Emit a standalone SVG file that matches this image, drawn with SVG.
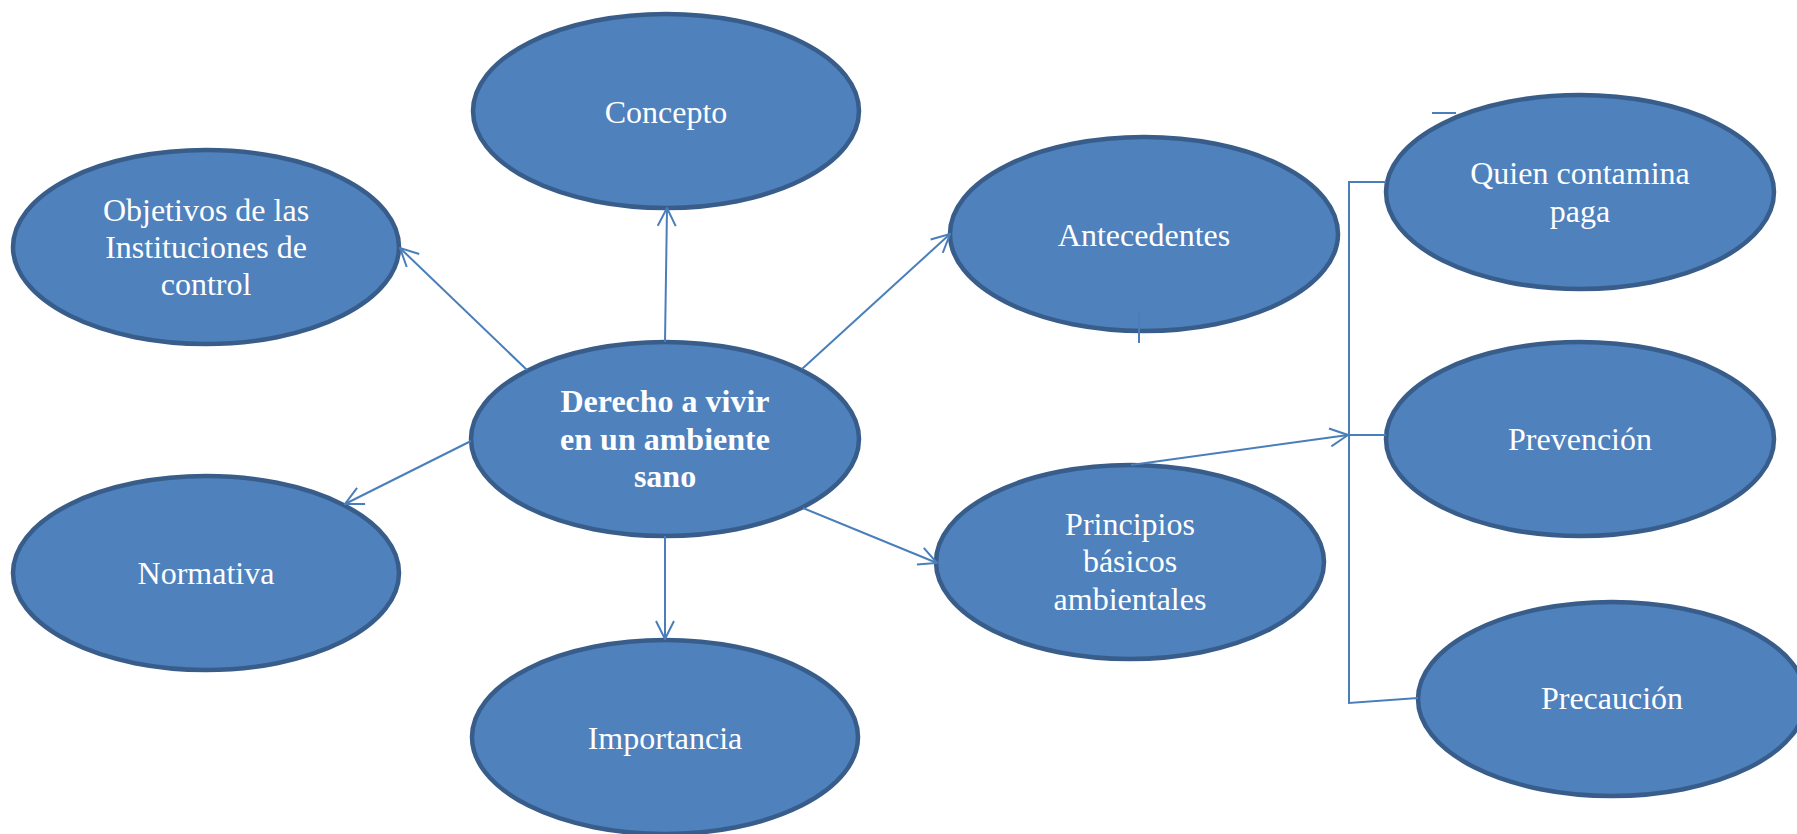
<svg xmlns="http://www.w3.org/2000/svg" width="1797" height="834" viewBox="0 0 1797 834">
<style>
.node ellipse{fill:#4F81BD;stroke:#385D8A;stroke-width:4.5}
.node text{font-family:"Liberation Serif","Times New Roman",serif;font-size:32px;fill:#ffffff;text-anchor:middle}
.node text.b{font-weight:bold}
.edge{fill:none;stroke:#4A7EBB;stroke-width:2}
</style>
<defs>
<marker id="arr" viewBox="0 0 20 20" refX="19" refY="10" markerWidth="20" markerHeight="20" markerUnits="userSpaceOnUse" orient="auto">
<path d="M1,1 L19,10 L1,19" fill="none" stroke="#4A7EBB" stroke-width="2"/>
</marker>
</defs>
<rect width="1797" height="834" fill="#ffffff"/>
<g id="n-concepto" class="node"><ellipse cx="666" cy="111" rx="193" ry="97"/><text x="666" y="123">Concepto</text></g>
<g id="n-objetivos" class="node"><ellipse cx="206" cy="247" rx="193" ry="97"/><text x="206" y="221">Objetivos de las</text><text x="206" y="258">Instituciones de</text><text x="206" y="295">control</text></g>
<g id="n-derecho" class="node"><ellipse cx="665" cy="439" rx="194" ry="97"/><text class="b" x="665" y="412">Derecho a vivir</text><text class="b" x="665" y="450">en un ambiente</text><text class="b" x="665" y="487">sano</text></g>
<g id="n-normativa" class="node"><ellipse cx="206" cy="573" rx="193" ry="97"/><text x="206" y="584">Normativa</text></g>
<g id="n-importancia" class="node"><ellipse cx="665" cy="737" rx="193" ry="97"/><text x="665" y="749">Importancia</text></g>
<g id="n-antecedentes" class="node"><ellipse cx="1144" cy="234" rx="194" ry="97"/><text x="1144" y="246">Antecedentes</text></g>
<g id="n-quien" class="node"><ellipse cx="1580" cy="192" rx="194" ry="97"/><text x="1580" y="184">Quien contamina</text><text x="1580" y="222">paga</text></g>
<g id="n-prevencion" class="node"><ellipse cx="1580" cy="439" rx="194" ry="97"/><text x="1580" y="450">Prevención</text></g>
<g id="n-principios" class="node"><ellipse cx="1130" cy="562" rx="194" ry="97"/><text x="1130" y="535">Principios</text><text x="1130" y="572">básicos</text><text x="1130" y="610">ambientales</text></g>
<g id="n-precaucion" class="node"><ellipse cx="1612" cy="699" rx="194" ry="97"/><text x="1612" y="709">Precaución</text></g>
<g id="connectors">
<line class="edge" x1="527" y1="370" x2="400" y2="248" marker-end="url(#arr)"/>
<line class="edge" x1="665" y1="342" x2="667" y2="208" marker-end="url(#arr)"/>
<line class="edge" x1="802" y1="369" x2="950" y2="234" marker-end="url(#arr)"/>
<line class="edge" x1="471" y1="441" x2="345" y2="504" marker-end="url(#arr)"/>
<line class="edge" x1="665" y1="536" x2="665" y2="639" marker-end="url(#arr)"/>
<line class="edge" x1="803" y1="508" x2="937" y2="563" marker-end="url(#arr)"/>
<line class="edge" x1="1131" y1="465" x2="1348" y2="435" marker-end="url(#arr)"/>
<path class="edge" d="M1386,182 L1349,182 L1349,703 L1418,698"/>
<line class="edge" x1="1349" y1="435" x2="1386" y2="435"/>
<line class="edge" x1="1432" y1="113" x2="1456" y2="113"/>
<line class="edge" x1="1139" y1="312" x2="1139" y2="343"/>
</g>
</svg>
